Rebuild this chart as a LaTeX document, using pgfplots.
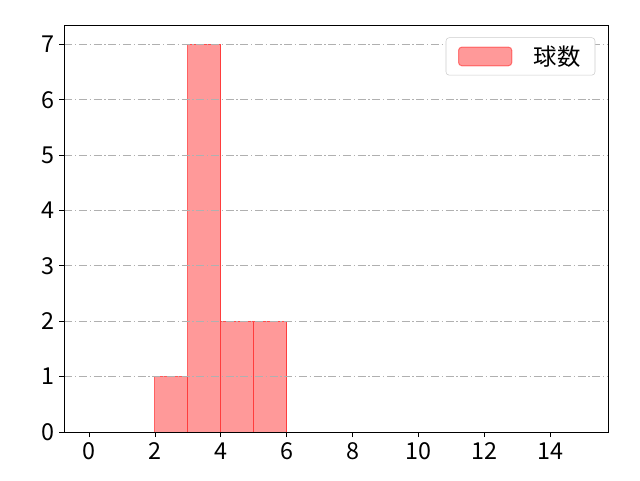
\documentclass[border=0pt]{standalone}
\usepackage{pgfplots}
\pgfplotsset{compat=1.18}
\usepackage{fontspec}
\setmainfont{Noto Sans CJK JP}
\definecolor{gridgray}{RGB}{176,176,176}
\definecolor{legframe}{RGB}{204,204,204}

\begin{document}
\begin{tikzpicture}[x=1pt,y=1pt]
  \begin{axis}[
    at={(48.2pt,36pt)},
    anchor=south west,
    scale only axis,
    width=408pt,
    height=305.25pt,
    xmin=-0.75, xmax=15.75,
    ymin=0, ymax=7.35,
    xtick={0,2,...,14},
    ytick={0,1,...,7},
    tick align=outside,
    xtick pos=bottom,
    ytick pos=left,
    major tick length=3.75pt,
    tick style={black, line width=0.6pt},
    axis line style={line width=0.6pt},
    set layers=axis on top,
    ymajorgrids=true,
    grid style={gridgray, line width=0.6pt, dash pattern=on 6pt off 2pt on 1pt off 2pt},
    /pgf/number format/assume math mode=true,
    ticklabel style={font=\fontsize{17.5}{20}\selectfont},
    xticklabel style={yshift=-1pt},
    legend style={at={(1,1)}, xshift=-9.75pt, yshift=-9.25pt, anchor=north east,
      draw=legframe, rounded corners=2.5pt,
      font=\fontsize{17.5}{20}\selectfont,
      inner xsep=9pt, inner ysep=4pt},
    legend image code/.code={%
      \draw[fill=red, fill opacity=0.4, draw=red, draw opacity=0.45, line width=0.75pt]
        (0pt,-7pt) rectangle (40pt,7pt);},
  ]
    \addplot[ybar interval, fill=red, fill opacity=0.4, draw=red, draw opacity=0.6,
      line width=0.75pt]
      coordinates {(2,1) (3,7) (4,2) (5,2) (6,2)};
    \addlegendentry{\hspace{14pt}球数}
  \end{axis}
  \path (0,0) rectangle (480,360);
\end{tikzpicture}
\end{document}
